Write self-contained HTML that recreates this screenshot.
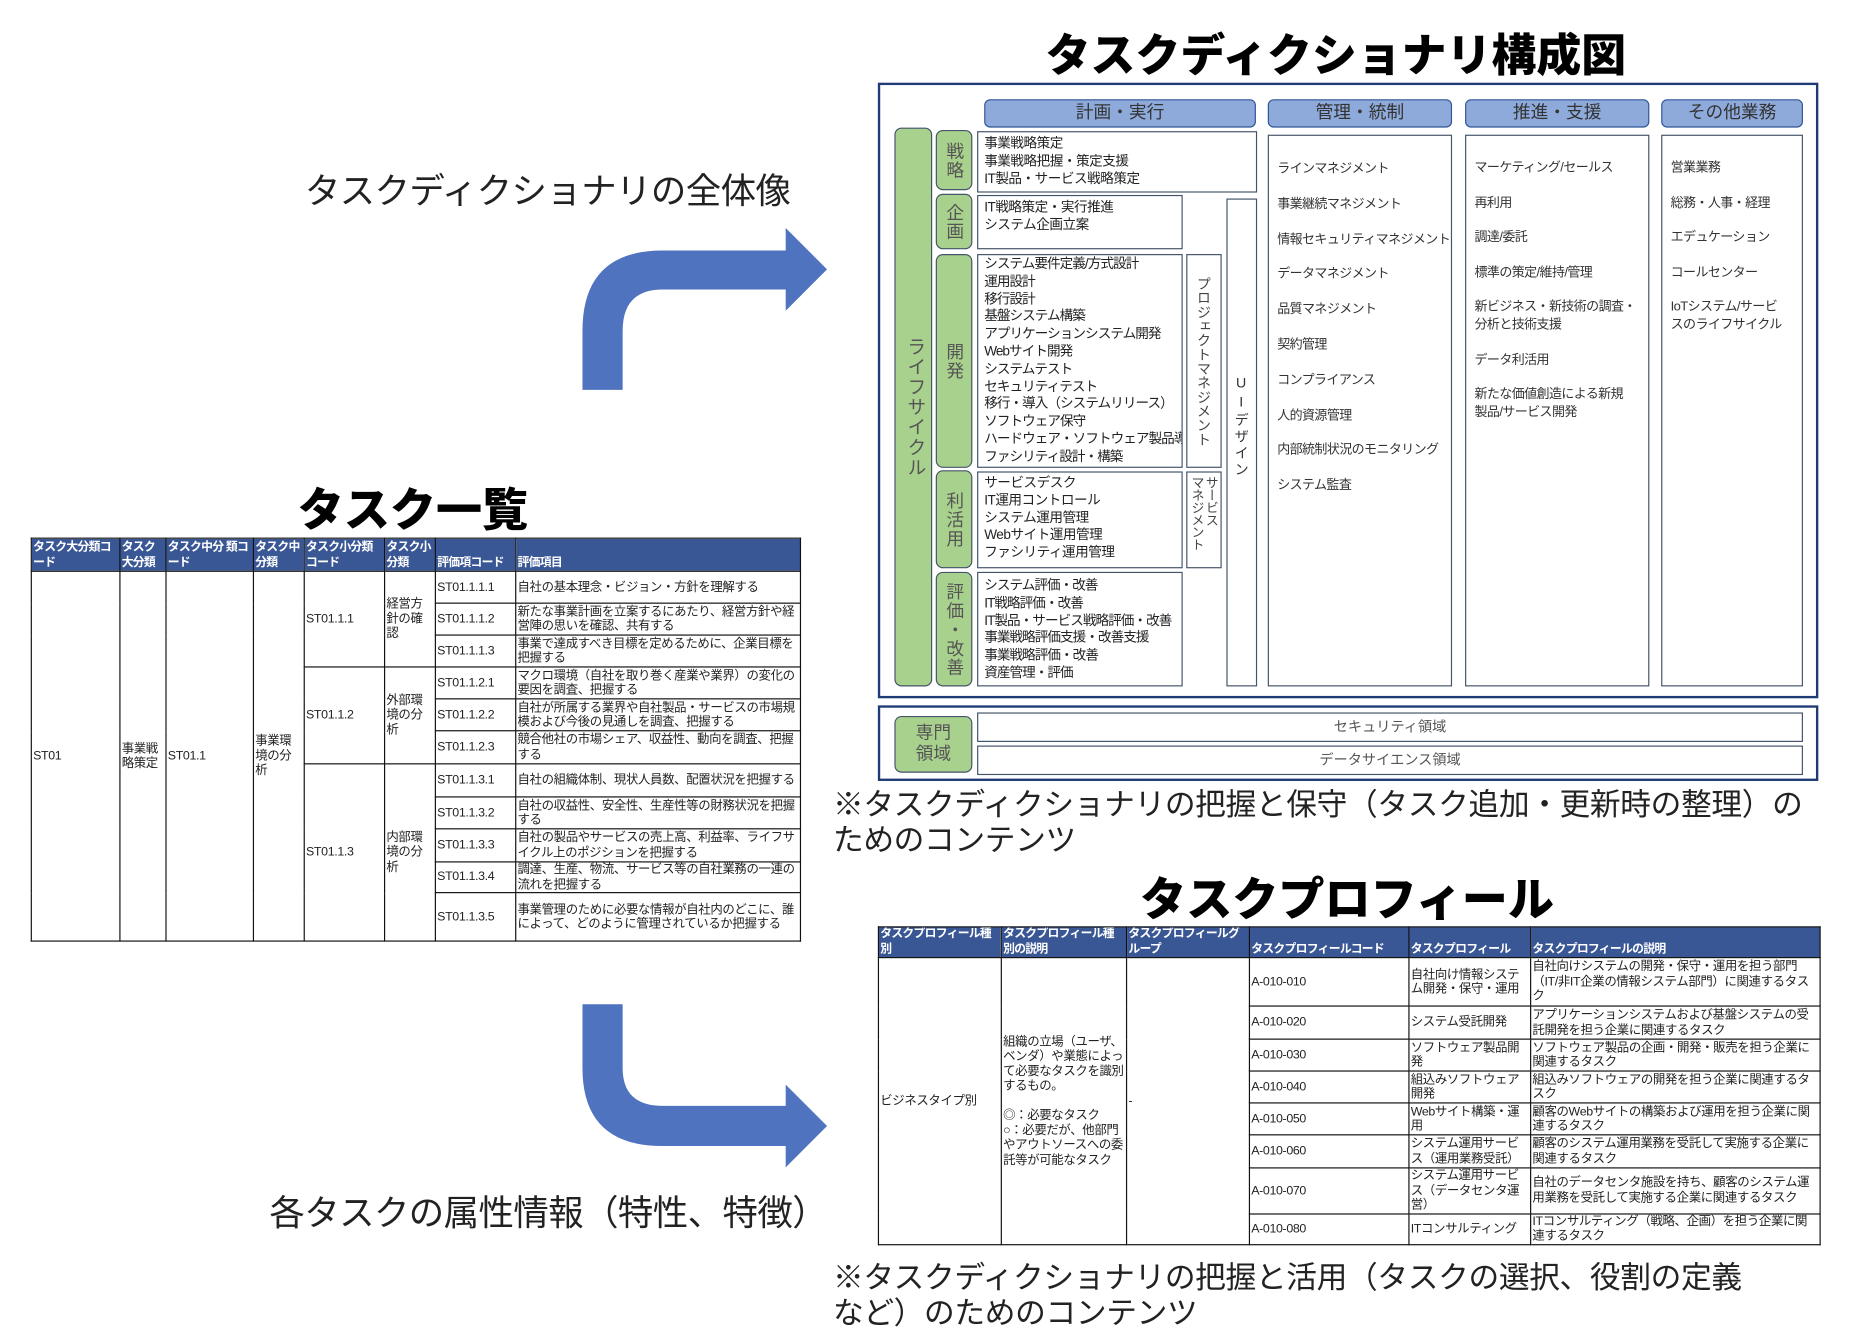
<!DOCTYPE html>
<html><head><meta charset="utf-8">
<style>
*{margin:0;padding:0;box-sizing:border-box}
html,body{width:1852px;height:1336px;background:#fff;overflow:hidden}
#w{position:absolute;left:0;top:0;width:1560px;height:1130px;transform:scale(1.1815);transform-origin:0 0;font-family:"Liberation Sans","Noto Sans CJK JP",sans-serif;color:#222}
.a{position:absolute}
.t{font-weight:900;font-size:39px;color:#000;white-space:nowrap}
.m{font-size:30px;white-space:nowrap;color:#222;letter-spacing:-0.5px}
.box{position:absolute;border:1.5px solid #44546a;background:#fff;overflow:hidden}
.pill{position:absolute;background:#8eaadb;border:1.5px solid #2f5597;border-radius:5px;text-align:center;font-size:15px;color:#333;line-height:21px}
.g{position:absolute;background:#a9d18e;border:1.5px solid #44546a;border-radius:6px;color:#555;font-size:15px;display:flex;align-items:center;justify-content:center}
.vt{writing-mode:vertical-rl;letter-spacing:1px}
.tx{font-size:11.5px;line-height:14.8px;padding:3px 0 0 5px;white-space:nowrap;color:#222;letter-spacing:-0.4px}
.col{font-size:11px;line-height:29.8px;padding:14px 0 0 7px;white-space:nowrap;color:#333;letter-spacing:-0.5px}
table{position:absolute;border-collapse:collapse;font-size:10.5px;table-layout:fixed;letter-spacing:-0.3px}
td,th{border:1.5px solid #111;vertical-align:middle;text-align:left;padding:0 1px;line-height:12.5px;overflow:hidden}
th{background:#3a5795;color:#fff;font-weight:bold;vertical-align:bottom;border-color:#111;font-size:10px;letter-spacing:-0.6px}
</style></head><body><div id="w">

<div class="a t" style="left:885px;top:16px;font-size:38px">タスクディクショナリ構成図</div>
<div class="a m" style="left:258px;top:137px">タスクディクショナリの全体像</div>
<div class="a t" style="left:252px;top:401px">タスク一覧</div>
<div class="a m" style="left:228px;top:1002px">各タスクの属性情報（特性、特徴）</div>
<div class="a m" style="left:705px;top:666px;font-size:26px;line-height:30px;letter-spacing:-0.3px">※タスクディクショナリの把握と保守（タスク追加・更新時の整理）の<br>ためのコンテンツ</div>
<div class="a t" style="left:965px;top:731px">タスクプロフィール</div>
<div class="a m" style="left:705px;top:1066px;font-size:26px;line-height:30px;letter-spacing:-0.3px">※タスクディクショナリの把握と活用（タスクの選択、役割の定義<br>など）のためのコンテンツ</div>

<svg class="a" style="left:0;top:0" width="1560" height="1130">
<path d="M493 330 V280 Q493 212 561 212 H665 V193 L700 228 L665 263 V245 H561 Q527 245 527 280 V330 Z" fill="#4f73bf"/>
<path d="M493 850 V904 Q493 970 561 970 H665 V988 L700 953 L665 918 V936 H561 Q527 936 527 904 V850 Z" fill="#4f73bf"/>
</svg>

<div class="a" style="left:743px;top:70px;width:796px;height:521px;border:2.5px solid #1f3a75"></div>
<div class="a" style="left:743px;top:597px;width:796px;height:64px;border:2.5px solid #1f3a75"></div>

<div class="pill" style="left:833px;top:84px;width:230px;height:24px">計画・実行</div>
<div class="pill" style="left:1073px;top:84px;width:156px;height:24px">管理・統制</div>
<div class="pill" style="left:1240px;top:84px;width:156px;height:24px">推進・支援</div>
<div class="pill" style="left:1406px;top:84px;width:120px;height:24px">その他業務</div>

<div class="g" style="left:757px;top:108px;width:32px;height:473px"><span class="vt" style="font-size:16px">ライフサイクル</span></div>
<div class="g" style="left:792px;top:110px;width:31px;height:51px"><span class="vt">戦略</span></div>
<div class="g" style="left:792px;top:164px;width:31px;height:47px"><span class="vt">企画</span></div>
<div class="g" style="left:792px;top:215px;width:31px;height:181px"><span class="vt">開発</span></div>
<div class="g" style="left:792px;top:398px;width:31px;height:83px"><span class="vt">利活用</span></div>
<div class="g" style="left:792px;top:484px;width:31px;height:97px"><span class="vt">評価・改善</span></div>

<div class="box tx" style="left:827px;top:111px;width:237px;height:52px">事業戦略策定<br>事業戦略把握・策定支援<br>IT製品・サービス戦略策定</div>
<div class="box tx" style="left:827px;top:165px;width:174px;height:46px">IT戦略策定・実行推進<br>システム企画立案</div>
<div class="box tx" style="left:827px;top:215px;width:174px;height:181px;padding-top:1px;letter-spacing:-0.8px">システム要件定義/方式設計<br>運用設計<br>移行設計<br>基盤システム構築<br>アプリケーションシステム開発<br>Webサイト開発<br>システムテスト<br>セキュリティテスト<br>移行・導入（システムリリース）<br>ソフトウェア保守<br>ハードウェア・ソフトウェア製品導入<br>ファシリティ設計・構築</div>
<div class="box" style="left:1004px;top:215px;width:30px;height:181px;font-size:12px;color:#444;display:flex;justify-content:center;padding-top:18px"><span class="vt" style="letter-spacing:0">プロジェクトマネジメント</span></div>
<div class="box" style="left:1038px;top:168px;width:26px;height:413px;font-size:12px;color:#333;display:flex;justify-content:center;padding-top:148px"><span class="vt" style="text-orientation:upright;letter-spacing:2px">UIデザイン</span></div>
<div class="box tx" style="left:827px;top:399px;width:174px;height:82px;padding-top:2px">サービスデスク<br>IT運用コントロール<br>システム運用管理<br>Webサイト運用管理<br>ファシリティ運用管理</div>
<div class="box" style="left:1004px;top:399px;width:30px;height:82px;font-size:11px;color:#444;display:flex;justify-content:center;padding-top:3px"><span class="vt" style="letter-spacing:-0.5px;line-height:12px">サービス<br>マネジメント</span></div>
<div class="box tx" style="left:827px;top:484px;width:174px;height:97px;padding-top:4px;letter-spacing:-0.8px">システム評価・改善<br>IT戦略評価・改善<br>IT製品・サービス戦略評価・改善<br>事業戦略評価支援・改善支援<br>事業戦略評価・改善<br>資産管理・評価</div>

<div class="box col" style="left:1073px;top:114px;width:156px;height:467px">ラインマネジメント<br>事業継続マネジメント<br>情報セキュリティマネジメント<br>データマネジメント<br>品質マネジメント<br>契約管理<br>コンプライアンス<br>人的資源管理<br>内部統制状況のモニタリング<br>システム監査</div>
<div class="box col" style="left:1240px;top:114px;width:156px;height:467px;line-height:14.8px;padding-top:20px">マーケティング/セールス<br><br>再利用<br><br>調達/委託<br><br>標準の策定/維持/管理<br><br>新ビジネス・新技術の調査・<br>分析と技術支援<br><br>データ利活用<br><br>新たな価値創造による新規<br>製品/サービス開発</div>
<div class="box col" style="left:1406px;top:114px;width:120px;height:467px;line-height:14.8px;padding-top:20px">営業業務<br><br>総務・人事・経理<br><br>エデュケーション<br><br>コールセンター<br><br>IoTシステム/サービ<br>スのライフサイクル</div>

<div class="g" style="left:757px;top:606px;width:66px;height:48px;line-height:18px;text-align:center">専門<br>領域</div>
<div class="box" style="left:827px;top:603px;width:699px;height:25px;font-size:12px;color:#555;text-align:center;line-height:22px">セキュリティ領域</div>
<div class="box" style="left:827px;top:631px;width:699px;height:25px;font-size:12px;color:#555;text-align:center;line-height:22px">データサイエンス領域</div>

<table style="left:26px;top:455px;width:651px">
<colgroup><col style="width:75px"><col style="width:39px"><col style="width:74px"><col style="width:43px"><col style="width:68px"><col style="width:43px"><col style="width:68px"><col style="width:241px"></colgroup>
<tr style="height:28px"><th>タスク大分類コード</th><th>タスク大分類</th><th>タスク中分 類コード</th><th>タスク中分類</th><th>タスク小分類コード</th><th>タスク小分類</th><th>評価項コード</th><th>評価項目</th></tr>
<tr style="height:27px"><td rowspan="11">ST01</td><td rowspan="11">事業戦略策定</td><td rowspan="11">ST01.1</td><td rowspan="11">事業環境の分析</td><td rowspan="3">ST01.1.1</td><td rowspan="3">経営方針の確認</td><td>ST01.1.1.1</td><td>自社の基本理念・ビジョン・方針を理解する</td></tr>
<tr style="height:27px"><td>ST01.1.1.2</td><td>新たな事業計画を立案するにあたり、経営方針や経営陣の思いを確認、共有する</td></tr>
<tr style="height:27px"><td>ST01.1.1.3</td><td>事業で達成すべき目標を定めるために、企業目標を把握する</td></tr>
<tr style="height:27px"><td rowspan="3">ST01.1.2</td><td rowspan="3">外部環境の分析</td><td>ST01.1.2.1</td><td>マクロ環境（自社を取り巻く産業や業界）の変化の要因を調査、把握する</td></tr>
<tr style="height:27px"><td>ST01.1.2.2</td><td>自社が所属する業界や自社製品・サービスの市場規模および今後の見通しを調査、把握する</td></tr>
<tr style="height:28px"><td>ST01.1.2.3</td><td>競合他社の市場シェア、収益性、動向を調査、把握する</td></tr>
<tr style="height:28px"><td rowspan="5">ST01.1.3</td><td rowspan="5">内部環境の分析</td><td>ST01.1.3.1</td><td>自社の組織体制、現状人員数、配置状況を把握する</td></tr>
<tr style="height:27px"><td>ST01.1.3.2</td><td>自社の収益性、安全性、生産性等の財務状況を把握する</td></tr>
<tr style="height:28px"><td>ST01.1.3.3</td><td>自社の製品やサービスの売上高、利益率、ライフサイクル上のポジションを把握する</td></tr>
<tr style="height:26px"><td>ST01.1.3.4</td><td>調達、生産、物流、サービス等の自社業務の一連の流れを把握する</td></tr>
<tr style="height:41px"><td>ST01.1.3.5</td><td>事業管理のために必要な情報が自社内のどこに、誰によって、どのように管理されているか把握する</td></tr>
</table>

<table style="left:743px;top:784px;width:797px">
<colgroup><col style="width:104px"><col style="width:106px"><col style="width:104px"><col style="width:135px"><col style="width:103px"><col style="width:245px"></colgroup>
<tr style="height:26px"><th>タスクプロフィール種別</th><th>タスクプロフィール種別の説明</th><th>タスクプロフィールグループ</th><th>タスクプロフィールコード</th><th>タスクプロフィール</th><th>タスクプロフィールの説明</th></tr>
<tr style="height:41px"><td rowspan="8">ビジネスタイプ別</td><td rowspan="8">組織の立場（ユーザ、ベンダ）や業態によって必要なタスクを識別するもの。<br><br>◎：必要なタスク<br>○：必要だが、他部門やアウトソースへの委託等が可能なタスク</td><td rowspan="8">-</td><td>A-010-010</td><td>自社向け情報システム開発・保守・運用</td><td>自社向けシステムの開発・保守・運用を担う部門（IT/非IT企業の情報システム部門）に関連するタスク</td></tr>
<tr style="height:28px"><td>A-010-020</td><td>システム受託開発</td><td>アプリケーションシステムおよび基盤システムの受託開発を担う企業に関連するタスク</td></tr>
<tr style="height:27px"><td>A-010-030</td><td>ソフトウェア製品開発</td><td>ソフトウェア製品の企画・開発・販売を担う企業に関連するタスク</td></tr>
<tr style="height:27px"><td>A-010-040</td><td>組込みソフトウェア開発</td><td>組込みソフトウェアの開発を担う企業に関連するタスク</td></tr>
<tr style="height:27px"><td>A-010-050</td><td>Webサイト構築・運用</td><td>顧客のWebサイトの構築および運用を担う企業に関連するタスク</td></tr>
<tr style="height:28px"><td>A-010-060</td><td>システム運用サービス（運用業務受託）</td><td>顧客のシステム運用業務を受託して実施する企業に関連するタスク</td></tr>
<tr style="height:38px"><td>A-010-070</td><td>システム運用サービス（データセンタ運営）</td><td>自社のデータセンタ施設を持ち、顧客のシステム運用業務を受託して実施する企業に関連するタスク</td></tr>
<tr style="height:26px"><td>A-010-080</td><td>ITコンサルティング</td><td>ITコンサルティング（戦略、企画）を担う企業に関連するタスク</td></tr>
</table>

</div></body></html>
